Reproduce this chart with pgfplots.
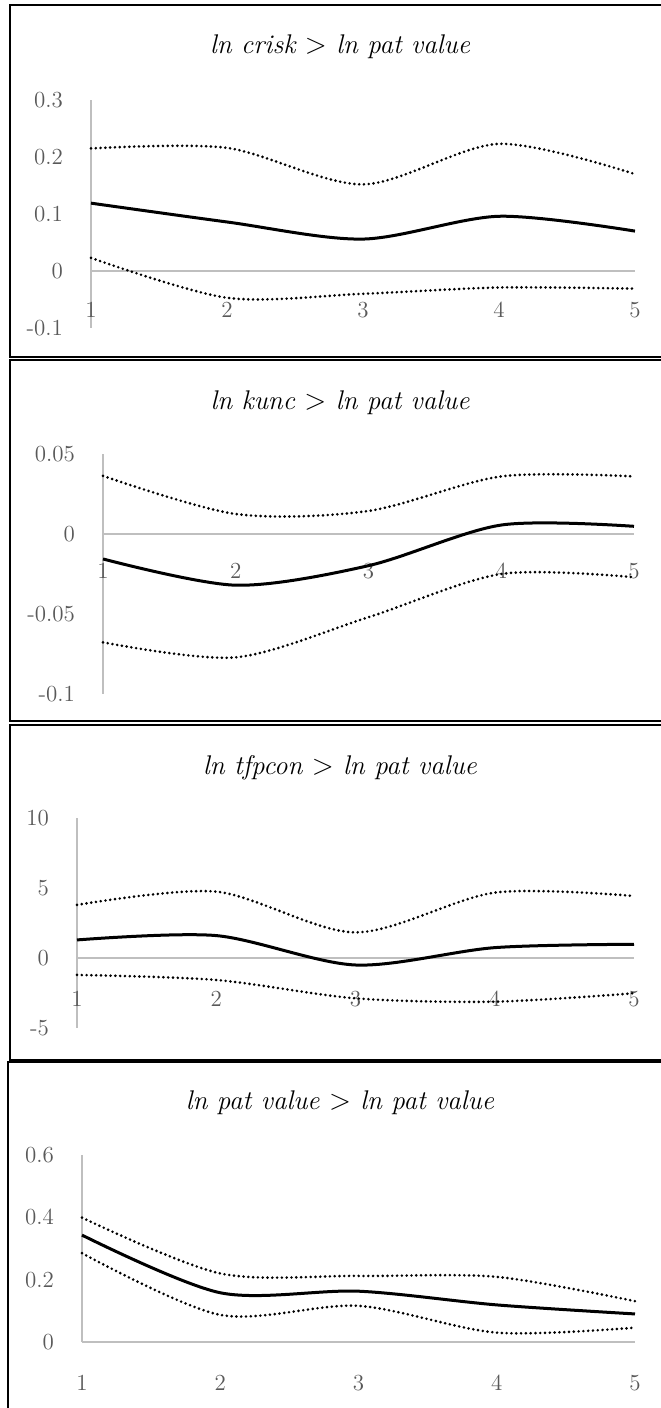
\documentclass[border=0pt]{standalone}
\usepackage{pgfplots}
\pgfplotsset{compat=1.18}
\definecolor{axgray}{RGB}{191,191,191}
\definecolor{lblgray}{RGB}{89,89,89}

\pgfplotsset{
  irf/.style={
    scale only axis,
    xmin=1, xmax=5,
    axis x line=middle, axis y line=left,
    axis line style={axgray, line width=0.6pt, -},
    every inner x axis line/.append style={-},
    every outer y axis line/.append style={-},
    hide obscured x ticks=false, hide obscured y ticks=false,
    xtick={1,2,3,4,5}, xticklabels={1,2,3,4,5},
    major tick length=0pt,
    tick label style={font=\fontsize{11.5}{13}\selectfont, text=lblgray},
    yticklabel style={xshift=-10.5pt},
    clip=false,
  },
  est/.style={black, line width=1.5pt, smooth},
  band/.style={black, line width=1.45pt, line cap=round, dash pattern=on 0pt off 2.4pt, smooth},
}

\begin{document}
\begin{tikzpicture}
\useasboundingbox (0,0) rectangle (330pt,704pt);

% panel frames
\draw[line width=1pt] (340pt,701.5pt) -- (5pt,701.5pt) -- (5pt,525.5pt) -- (340pt,525.5pt);
\draw[line width=1pt] (340pt,524pt) -- (5pt,524pt) -- (5pt,343.5pt) -- (340pt,343.5pt);
\draw[line width=1pt] (340pt,341.5pt) -- (5pt,341.5pt) -- (5pt,174pt) -- (340pt,174pt);
\draw[line width=1pt] (340pt,173pt) -- (4pt,173pt) -- (4pt,-5pt);

\tikzset{ttl/.style={font=\fontsize{13.5}{16}\selectfont\itshape}}
\node[ttl] at (170pt,680.5pt) {ln crisk $>$ ln pat value};
\node[ttl] at (170pt,502.5pt) {ln kunc $>$ ln pat value};
\node[ttl] at (170pt,320pt) {ln tfpcon $>$ ln pat value};
\node[ttl] at (170pt,152.5pt) {ln pat value $>$ ln pat value};

% ln crisk
\begin{axis}[irf, at={(45.5pt,540pt)}, anchor=south west,
  width=272pt, height=114pt, ymin=-0.1, ymax=0.3,
  ytick={-0.1,0,0.1,0.2,0.3}, yticklabels={-0.1,0,0.1,0.2,0.3},
  xticklabel style={yshift=-12pt}]
\addplot[band] coordinates {(1,0.215) (2,0.216) (3,0.152) (4,0.223) (5,0.170)};
\addplot[est] coordinates {(1,0.119) (2,0.086) (3,0.056) (4,0.096) (5,0.070)};
\addplot[band] coordinates {(1,0.023) (2,-0.047) (3,-0.040) (4,-0.029) (5,-0.031)};
\end{axis}

% ln kunc
\begin{axis}[irf, at={(51.5pt,357pt)}, anchor=south west,
  width=265.5pt, height=120pt, ymin=-0.1, ymax=0.05,
  ytick={-0.1,-0.05,0,0.05}, yticklabels={-0.1,-0.05,0,0.05},
  xticklabel style={yshift=-11pt}]
\addplot[band] coordinates {(1,0.0363) (2,0.0125) (3,0.0144) (4,0.036) (5,0.036)};
\addplot[est] coordinates {(1,-0.0156) (2,-0.032) (3,-0.0198) (4,0.0056) (5,0.0048)};
\addplot[band] coordinates {(1,-0.0677) (2,-0.0771) (3,-0.052) (4,-0.025) (5,-0.027)};
\end{axis}

% ln tfpcon
\begin{axis}[irf, at={(38.5pt,190pt)}, anchor=south west,
  width=278.5pt, height=105pt, ymin=-5, ymax=10,
  ytick={-5,0,5,10}, yticklabels={-5,0,5,10},
  xticklabel style={yshift=-13pt}]
\addplot[band] coordinates {(1,3.79) (2,4.74) (3,1.83) (4,4.67) (5,4.43)};
\addplot[est] coordinates {(1,1.29) (2,1.60) (3,-0.50) (4,0.74) (5,0.98)};
\addplot[band] coordinates {(1,-1.21) (2,-1.57) (3,-2.88) (4,-3.12) (5,-2.52)};
\end{axis}

% ln pat value
\begin{axis}[irf, at={(41pt,33pt)}, anchor=south west,
  width=276.5pt, height=93.5pt, ymin=0, ymax=0.6,
  ytick={0,0.2,0.4,0.6}, yticklabels={0,0.2,0.4,0.6},
  xticklabel style={yshift=-13pt}]
\addplot[band] coordinates {(1,0.399) (2,0.220) (3,0.212) (4,0.209) (5,0.131)};
\addplot[est] coordinates {(1,0.343) (2,0.158) (3,0.163) (4,0.119) (5,0.090)};
\addplot[band] coordinates {(1,0.285) (2,0.087) (3,0.116) (4,0.030) (5,0.046)};
\end{axis}
\end{tikzpicture}
\end{document}
